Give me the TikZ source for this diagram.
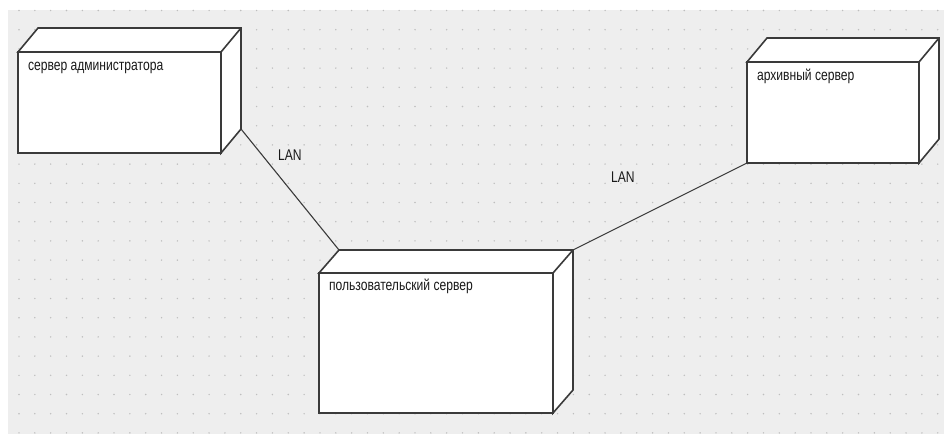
\documentclass[tikz,border=0pt]{standalone}
\usepackage{fontspec}
\newfontfamily\diagfont[FakeStretch=0.78]{Liberation Sans}
\definecolor{canvas}{RGB}{238,238,238}
\definecolor{griddot}{RGB}{190,190,190}
\definecolor{edge}{RGB}{58,58,58}
\definecolor{ink}{RGB}{25,25,25}

\begin{document}
\begin{tikzpicture}[x=1pt, y=-1pt,
  every node/.style={font=\diagfont\fontsize{15.5}{18}\selectfont, text=ink},
  face/.style={draw=edge, line width=1.6pt, fill=white, inner sep=0pt, outer sep=0pt, anchor=north west},
  side/.style={draw=edge, line width=1.6pt, fill=white, line join=miter},
  wire/.style={draw=edge, line width=1.1pt}]
\useasboundingbox (0,0) rectangle (944,434);
\fill[canvas] (8,10) rectangle (944,434);
\foreach \i in {0,...,58}
  \foreach \j in {0,...,22}
    \fill[griddot] (19+15.84*\i, 10.5+19.2*\j) circle (0.8);

\node[face, minimum width=203, minimum height=101] (adm) at (18,52) {};
\node[face, minimum width=234, minimum height=140] (usr) at (319,273) {};
\node[face, minimum width=172, minimum height=101] (arc) at (747,62) {};

\coordinate (adm-corner) at ([shift={(20,-24)}]adm.south east);
\coordinate (usr-left) at ([shift={(20,-23)}]usr.north west);
\coordinate (usr-right) at ([shift={(20,-23)}]usr.north east);
\draw[wire] (adm-corner) -- (usr-left);
\draw[wire] (usr-right) -- (arc.south west);

% top and side faces
\draw[side] (adm.north west) -- ++(20,-24) -- ++(203,0) -- (adm-corner) -- (adm.south east) -- (adm.north east) -- cycle;
\draw[side] (adm.north east) -- ++(20,-24);
\draw[side] (usr.north west) -- (usr-left) -- (usr-right) -- ++(0,140) -- (usr.south east) -- (usr.north east) -- cycle;
\draw[side] (usr.north east) -- (usr-right);
\draw[side] (arc.north west) -- ++(20,-24) -- ++(172,0) -- ++(0,101) -- (arc.south east) -- (arc.north east) -- cycle;
\draw[side] (arc.north east) -- ++(20,-24);

\node[anchor=base west] (adm-text) at ([shift={(6.5,18.5)}]adm.north west) {сервер администратора};
\node[anchor=base west] (usr-text) at ([shift={(6.5,17.5)}]usr.north west) {пользовательский сервер};
\node[anchor=base west] (arc-text) at ([shift={(6.5,18.5)}]arc.north west) {архивный сервер};

\node[anchor=base west] (lan-a) at (274.5,160) {LAN};
\node[anchor=base west] (lan-b) at (607.5,182) {LAN};
\end{tikzpicture}
\end{document}
